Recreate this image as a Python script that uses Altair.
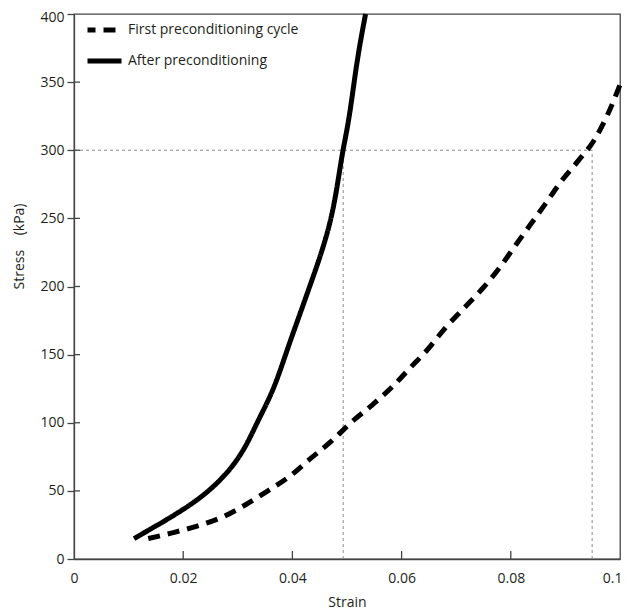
import altair as alt
import pandas as pd

# ---- data ----
first_label = "First preconditioning cycle"
after_label = "After preconditioning"

after_strain = [0.0110, 0.0197, 0.0249, 0.0292, 0.0318, 0.0335, 0.0362, 0.0380,
                0.0396, 0.0414, 0.0429, 0.0444, 0.0454, 0.0469, 0.0481, 0.0492,
                0.0504, 0.0518, 0.0534]
after_stress = [15, 35, 50, 68, 85, 100, 121, 141,
                160, 180, 197, 214, 226, 246, 270, 300,
                322, 366, 400]

first_strain = [0.0136, 0.0178, 0.0224, 0.0273, 0.0315, 0.0355, 0.0396, 0.0434,
                0.0473, 0.0507, 0.0546, 0.0582, 0.0615, 0.0646, 0.0681, 0.0714,
                0.0747, 0.0778, 0.0810, 0.0837, 0.0864, 0.0892, 0.0923, 0.0952,
                0.0976, 0.1000]
first_stress = [15, 19, 24, 31, 40, 50, 61, 74,
                87, 100, 113, 126, 140, 153, 170, 184,
                198, 213, 231, 246, 261, 277, 292, 307,
                325, 348]

ref_stress = 300
ref_strains = [0.0493, 0.0949]

x_ticks = [0, 0.02, 0.04, 0.06, 0.08, 0.1]
x_inner_ticks = [0.02, 0.04, 0.06, 0.08]
y_ticks = [0, 50, 100, 150, 200, 250, 300, 350, 400]
y_inner_ticks = [50, 100, 150, 200, 250, 300, 350]

# ---- tables ----
first_df = pd.DataFrame({"strain": first_strain, "stress": first_stress, "series": first_label,
                         "order": range(len(first_strain))})
after_df = pd.DataFrame({"strain": after_strain, "stress": after_stress, "series": after_label,
                         "order": range(len(after_strain))})

W, H = 546, 545
FONT = "Open Sans"
TXT = "#231f20"
AX = "#444444"

xscale = alt.Scale(domain=[0, 0.1], nice=False, zero=False)
yscale = alt.Scale(domain=[0, 400], nice=False)
dash_scale = alt.Scale(domain=[first_label, after_label], range=[[12, 8], [1, 0]])

x_axis = alt.Axis(values=x_ticks, format="~g", ticks=False, tickSize=0,
                  labelPadding=12, grid=False, title="Strain", titlePadding=10,
                  labelAlign=alt.ConditionalAxisLabelAlign(
                      condition={"test": "datum.value >= 0.1", "value": "right"},
                      value="center"),
                  labelOffset=alt.ConditionalAxisNumber(
                      condition={"test": "datum.value >= 0.1", "value": 2},
                      value=0))
y_axis = alt.Axis(values=y_ticks, tickSize=7, labelPadding=3, grid=False,
                  title="Stress\u00a0\u00a0\u00a0\u00a0(kPa)", titleX=-48, titleY=232,
                  labelOffset=alt.ConditionalAxisNumber(
                      condition={"test": "datum.value >= 400", "value": 3},
                      value=0))

legend = alt.Legend(title=None, orient="none", legendX=11, legendY=0.5,
                    symbolType="stroke", symbolSize=1156, symbolStrokeWidth=5,
                    symbolStrokeColor="black", symbolDashOffset=4,
                    clipHeight=31, rowPadding=0,
                    labelOffset=4, padding=0, labelFontSize=14, labelFont=FONT,
                    labelColor=TXT, labelLimit=400)

first_line = alt.Chart(first_df).mark_line(
    strokeWidth=5, color="black", interpolate="monotone", strokeCap="butt"
).encode(
    x=alt.X("strain:Q", scale=xscale, axis=x_axis),
    y=alt.Y("stress:Q", scale=yscale, axis=y_axis),
    strokeDash=alt.StrokeDash("series:N", scale=dash_scale, legend=legend),
    order="order:Q",
)
after_line = alt.Chart(after_df).mark_line(
    strokeWidth=5, color="black", interpolate="basis", strokeCap="butt"
).encode(
    x=alt.X("strain:Q", scale=xscale),
    y=alt.Y("stress:Q", scale=yscale),
    strokeDash=alt.StrokeDash("series:N", scale=dash_scale, legend=legend),
    order="order:Q",
)

ref_h = pd.DataFrame({"x0": [0], "x1": [max(ref_strains)], "y": [ref_stress]})
ref_v = pd.DataFrame({"x": ref_strains, "y0": [0, 0], "y1": [ref_stress, ref_stress]})

ref_h_layer = alt.Chart(ref_h).mark_rule(color="#8a8a8a", strokeWidth=1, strokeDash=[3, 3]).encode(
    x=alt.X("x0:Q", scale=xscale), x2="x1:Q", y=alt.Y("y:Q", scale=yscale))
ref_v_layer = alt.Chart(ref_v).mark_rule(color="#8a8a8a", strokeWidth=1, strokeDash=[3, 3]).encode(
    x=alt.X("x:Q", scale=xscale), y=alt.Y("y0:Q", scale=yscale), y2="y1:Q")

xt = alt.Chart(pd.DataFrame({"v": x_inner_ticks})).mark_rule(color=AX, strokeWidth=1.3).encode(
    x=alt.X("v:Q", scale=xscale), y=alt.value(H), y2=alt.value(H - 8))
yt = alt.Chart(pd.DataFrame({"v": y_inner_ticks})).mark_rule(color=AX, strokeWidth=1.3).encode(
    y=alt.Y("v:Q", scale=yscale), x=alt.value(0), x2=alt.value(6))

chart = alt.layer(ref_h_layer, ref_v_layer, xt, yt, first_line, after_line).properties(
    width=W, height=H,
    autosize=alt.AutoSizeParams(type="none"),
    padding={"left": 66, "top": 6, "right": 2, "bottom": 50},
).configure_view(
    stroke=AX, strokeWidth=1.3
).configure_axis(
    domainColor=AX, domainWidth=1.3, tickColor=AX, tickWidth=1.3,
    labelFont=FONT, labelFontSize=14, labelColor=TXT,
    titleFont=FONT, titleFontSize=14, titleFontWeight="normal", titleColor=TXT,
)

chart.save("out.html", embed_options={"renderer": "svg", "actions": False})
